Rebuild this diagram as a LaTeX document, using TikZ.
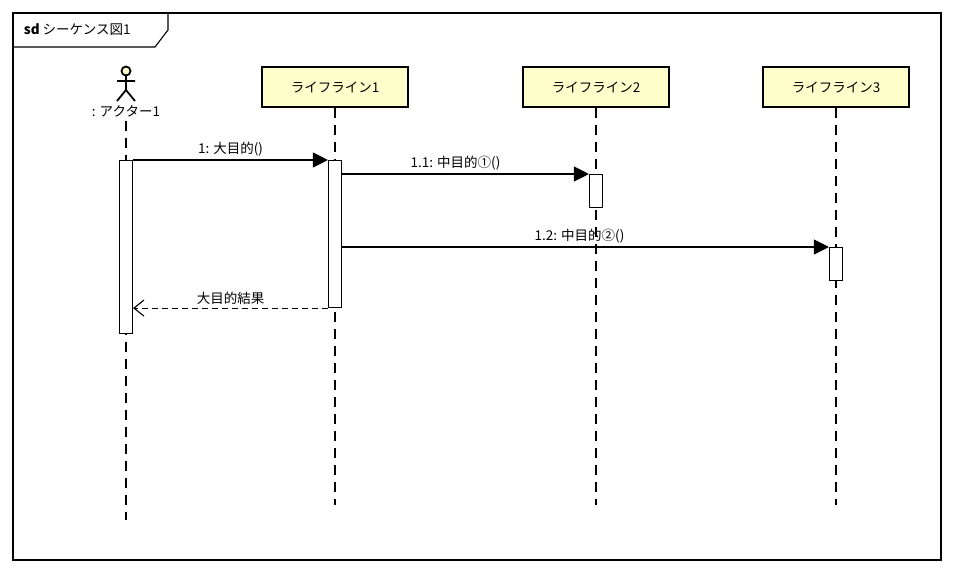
\documentclass[tikz,border=0pt]{standalone}
\usepackage{fontspec}
\setmainfont{Noto Sans CJK JP}
\usetikzlibrary{arrows.meta}
\definecolor{lifefill}{RGB}{255,255,204}
\begin{document}
\begin{tikzpicture}[x=1pt,y=-1pt,font=\fontsize{13.5}{16}\selectfont,line width=1.1pt]
    \tikzstyle{life box}=[draw,line width=2.6pt,fill=lifefill,minimum width=146,minimum height=40,inner sep=0]
    \tikzstyle{life line}=[dash pattern=on 10pt off 7pt]
    \tikzstyle{act box}=[draw,fill=white,minimum width=13,inner sep=0]
    \tikzstyle{call}=[-{Triangle[length=15pt,width=15pt]}]
    \tikzstyle{reply}=[dash pattern=on 6pt off 4pt,-{Straight Barb[length=10pt,width=16pt]}]

    \useasboundingbox (0,0) rectangle (954,573);
    % frame
    \draw (13,13) rectangle (941,560);
    \draw (13,47) -- (155,47) -- (168,30) -- (168,13);
    \node[anchor=west] (sd) at (20,30) {\textbf{sd} シーケンス図1};

    % actor
    \draw[fill=lifefill,line width=1.8pt] (126,71) circle (4.5);
    \draw[line width=1.8pt] (126,75.5) -- (126,90) (117,81) -- (135,81)
        (117,101) -- (126,90) -- (135,101);
    \node (actor) at (126,111) {: アクター1};
    % lifelines
    \node[life box] (l1) at (335,87) {ライフライン1};
    \node[life box] (l2) at (596,87) {ライフライン2};
    \node[life box] (l3) at (836,87) {ライフライン3};
    \coordinate (e0) at (126,520);
    \coordinate (e1) at (335,505);
    \coordinate (e2) at (596,505);
    \coordinate (e3) at (836,505);
    \draw[life line] (actor) -- (e0);
    \foreach \i in {1,2,3} \draw[life line] (l\i) -- (e\i);

    % activations
    \node[act box,minimum height=173,anchor=north] (a0) at (126,160) {};
    \node[act box,minimum height=147,anchor=north] (a1) at (335,160) {};
    \node[act box,minimum height=33,anchor=north] (a2) at (596,174) {};
    \node[act box,minimum height=33,anchor=north] (a3) at (836,247) {};

    % messages
    \draw[call] (a0.north east) -- node[above]{1: 大目的()} (a1.north west);
    \draw[call] (a1.east |- a2.north) -- node[above,xshift=-10]{1.1: 中目的①()} (a2.north west);
    \draw[call] (a1.east |- a3.north) -- node[above,xshift=-6]{1.2: 中目的②()} (a3.north west);
    \draw[reply] (a1.south west) -- node[above]{大目的結果} (a0.east |- a1.south);
\end{tikzpicture}
\end{document}
